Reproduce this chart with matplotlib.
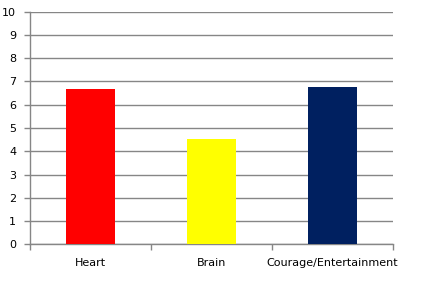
import matplotlib.pyplot as plt

categories = ["Heart", "Brain", "Courage/Entertainment"]
values = [6.66, 4.53, 6.76]
colors = ["#FF0000", "#FFFF00", "#002060"]
yticks = list(range(0, 11))

fig = plt.figure(figsize=(4.42, 2.91), dpi=100)
ax = fig.add_axes([30 / 442, (291 - 244.3) / 291, 363 / 442, 232.6 / 291])

x = range(len(categories))
ax.bar(x, values, width=0.4, color=colors, zorder=3)

grid_color = "#868686"
ax.set_ylim(0, 10)
ax.set_xlim(-0.5, len(categories) - 0.5)
ax.set_yticks(yticks)
ax.yaxis.grid(True, color=grid_color, linewidth=1, zorder=0)

ax.set_xticks(list(x))
ax.set_xticklabels(categories)
ax.set_xticks([i - 0.5 for i in range(len(categories) + 1)], minor=True)
ax.tick_params(axis="x", which="major", length=0, pad=10, labelsize=8)
ax.tick_params(axis="x", which="minor", length=4, color=grid_color, width=1)
ax.tick_params(axis="y", length=4, color=grid_color, width=1, pad=6, labelsize=8)

for s in ["top", "right"]:
    ax.spines[s].set_visible(False)
for s in ["left", "bottom"]:
    ax.spines[s].set_color(grid_color)
    ax.spines[s].set_linewidth(1)

fig.savefig("out.png", dpi=100)
